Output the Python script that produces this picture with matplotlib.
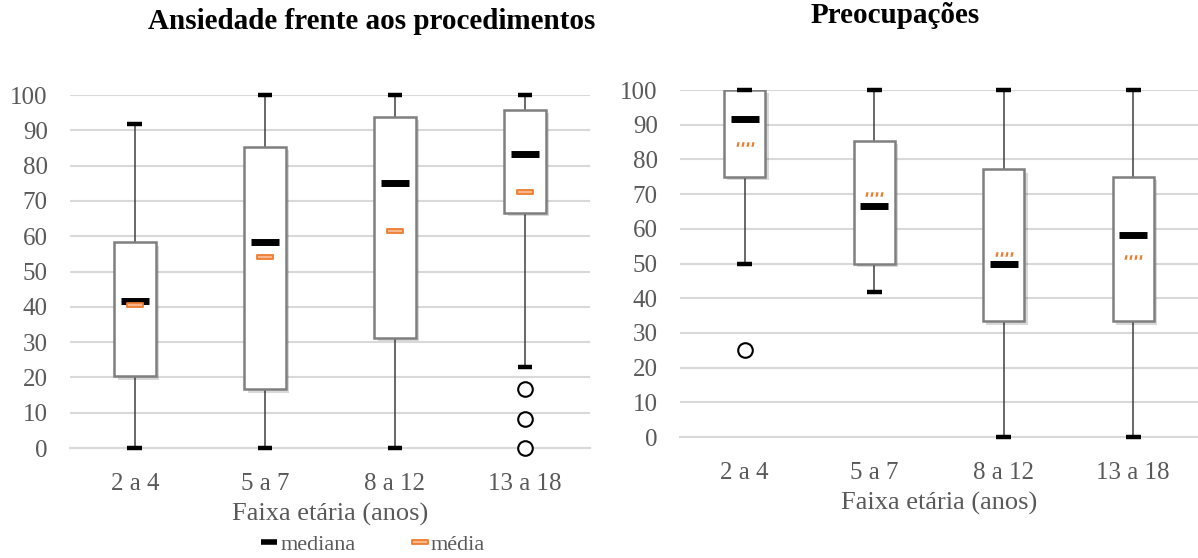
import numpy as np
import matplotlib
matplotlib.use('Agg')
import matplotlib.pyplot as plt
from matplotlib.path import Path
from matplotlib.lines import Line2D
import matplotlib.patheffects as pe

plt.rcParams['font.family'] = ['Liberation Serif', 'DejaVu Serif']

categories = ['2 a 4', '5 a 7', '8 a 12', '13 a 18']

# Ansiedade frente aos procedimentos
ans_low = [0, 0, 0, 22.9]
ans_q1 = [20.3, 16.7, 31.2, 66.7]
ans_med = [41.7, 58.3, 75.0, 83.3]
ans_q3 = [58.3, 85.4, 93.8, 95.8]
ans_high = [91.7, 100, 100, 100]
ans_mean = [40.5, 54.2, 61.5, 72.5]
ans_out = [[], [], [], [16.7, 8.3, 0]]

# Preocupações
pre_low = [50, 41.7, 0, 0]
pre_q1 = [75, 50, 33.3, 33.3]
pre_med = [91.7, 66.7, 50, 58.3]
pre_q3 = [100, 85.4, 77.1, 75]
pre_high = [100, 100, 100, 100]
pre_mean = [84.5, 70.0, 52.6, 51.8]
pre_out = [[25], [], [], []]

TXT = '#595959'
ORANGE = '#ed7d31'

# markers for the mean
solid_mean = Path([(-4, -1), (4, -1), (4, 1), (-4, 1), (-4, -1)],
                  [Path.MOVETO, Path.LINETO, Path.LINETO, Path.LINETO, Path.CLOSEPOLY])
verts, codes = [], []
for cx in (-3.3, -1.1, 1.1, 3.3):
    verts += [(cx - 0.7, -1), (cx + 0.3, -1), (cx + 0.7, 1), (cx - 0.3, 1), (cx - 0.7, -1)]
    codes += [Path.MOVETO, Path.LINETO, Path.LINETO, Path.LINETO, Path.CLOSEPOLY]
dotted_mean = Path(verts, codes)


def draw(ax, low, q1, med, q3, high, mean, outs, dotted):
    pos = np.arange(1, len(categories) + 1)
    stats = []
    for i in range(len(categories)):
        stats.append(dict(whislo=low[i], q1=q1[i], med=med[i], q3=q3[i],
                          whishi=high[i], fliers=outs[i], label=categories[i]))
    bp = ax.bxp(stats, positions=pos, widths=0.32, patch_artist=True,
                showfliers=True, capwidths=0.115,
                boxprops=dict(facecolor='white', edgecolor='#7f7f7f', linewidth=1.8),
                whiskerprops=dict(color='#404040', linewidth=1.1),
                capprops=dict(color='black', linewidth=3.2, solid_capstyle='butt'),
                medianprops=dict(linewidth=0),
                flierprops=dict(marker='o', markersize=10.5, markerfacecolor='white',
                                markeredgecolor='black', markeredgewidth=1.5))
    for b in bp['boxes']:
        b.set_path_effects([pe.SimplePatchShadow(offset=(2.5, -2.5), shadow_rgbFace='#000000', alpha=0.15),
                            pe.Normal()])
        b.set_zorder(3)
    for c in bp['caps']:
        c.set_clip_on(False)
        c.set_zorder(4)
    for f in bp['fliers']:
        f.set_clip_on(False)
        f.set_zorder(4)
    ax.plot(pos, med, linestyle='none', marker='_', markersize=20,
            markeredgewidth=5, color='black', zorder=5)
    if dotted:
        ax.plot(pos, mean, linestyle='none', marker=dotted_mean, markersize=13,
                markerfacecolor=ORANGE, markeredgewidth=0, zorder=5)
    else:
        ax.plot(pos, mean, linestyle='none', marker=solid_mean, markersize=12,
                markerfacecolor='#f8b88b', markeredgecolor=ORANGE,
                markeredgewidth=1.3, zorder=5)

    ax.set_xlim(0.5, len(categories) + 0.5)
    ax.set_ylim(0, 100)
    ax.set_yticks(np.arange(0, 101, 10))
    ax.set_xticks(pos)
    ax.set_xticklabels(categories)
    ax.yaxis.grid(True, color='#d9d9d9', linewidth=1.5)
    ax.set_axisbelow(True)
    for s in ['top', 'right', 'left']:
        ax.spines[s].set_visible(False)
    ax.spines['bottom'].set_color('#d9d9d9')
    ax.spines['bottom'].set_linewidth(1.5)
    ax.tick_params(axis='both', length=0, labelsize=18, colors=TXT)
    ax.tick_params(axis='x', pad=18)
    ax.tick_params(axis='y', pad=16)
    ax.set_xlabel('Faixa etária (anos)', fontsize=19, color=TXT, labelpad=6)


fig = plt.figure(figsize=(11.98, 5.58), dpi=100)
ax1 = fig.add_axes([0.0584, 0.1971, 0.4341, 0.6326])
ax2 = fig.add_axes([0.5676, 0.2168, 0.4324, 0.6219])

draw(ax1, ans_low, ans_q1, ans_med, ans_q3, ans_high, ans_mean, ans_out, False)
draw(ax2, pre_low, pre_q1, pre_med, pre_q3, pre_high, pre_mean, pre_out, True)

fig.text(0.3105, 0.9606, 'Ansiedade frente aos procedimentos', fontsize=21,
         fontweight='bold', ha='center', va='center')
fig.text(0.747, 0.972, 'Preocupações', fontsize=21,
         fontweight='bold', ha='center', va='center')

handles = [Line2D([], [], linestyle='none', marker='_', markersize=11, markeredgewidth=4, color='black'),
           Line2D([], [], linestyle='none', marker=solid_mean, markersize=11,
                  markerfacecolor='#f8b88b', markeredgecolor=ORANGE, markeredgewidth=1.3)]
fig.legend(handles, ['mediana', 'média'], loc='center', bbox_to_anchor=(0.312, 0.024),
           ncol=2, frameon=False, fontsize=16, handlelength=0.6, handletextpad=0.2,
           columnspacing=2.6, labelcolor=TXT)

fig.savefig('out.png', dpi=100)
